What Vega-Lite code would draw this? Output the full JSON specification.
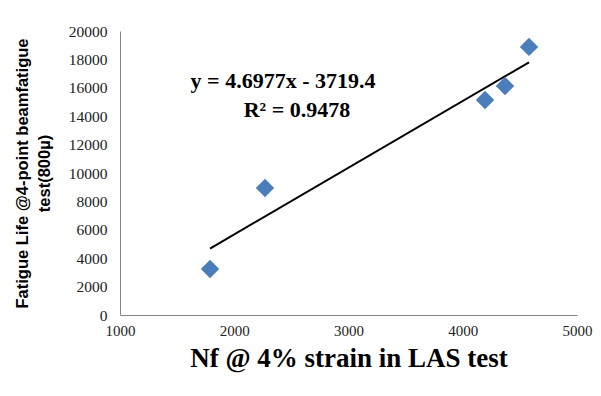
{
  "$schema": "https://vega.github.io/schema/vega-lite/v6.json",
  "width": 457,
  "height": 284,
  "autosize": {"type": "none"},
  "padding": {"left": 120, "top": 31, "right": 24, "bottom": 81},
  "background": "white",
  "config": {"view": {"stroke": null}},
  "datasets": {
    "points": [
      {"nf": 1788, "life": 3240},
      {"nf": 2269, "life": 8940},
      {"nf": 4195, "life": 15140},
      {"nf": 4370, "life": 16130},
      {"nf": 4580, "life": 18880}
    ],
    "trend": [
      {"nf": 1788, "life": 4680},
      {"nf": 4580, "life": 17796}
    ],
    "labels": [
      {"nf": 2427, "life": 16479, "text": "y = 4.6977x - 3719.4"},
      {"nf": 2549, "life": 14437, "text": "R² = 0.9478"}
    ]
  },
  "encoding": {
    "x": {
      "field": "nf", "type": "quantitative",
      "scale": {"domain": [1000, 5000], "nice": false, "zero": false},
      "axis": {
        "values": [1000, 2000, 3000, 4000, 5000],
        "format": "d",
        "grid": false, "ticks": false,
        "domainColor": "#868686", "domainWidth": 1,
        "labelFont": "Liberation Serif", "labelFontSize": 15, "labelColor": "#222222",
        "labelPadding": 8, "labelFlush": false, "labelOverlap": false,
        "title": "Nf @ 4% strain in LAS test",
        "titleFont": "Liberation Serif", "titleFontSize": 27, "titleFontWeight": "bold",
        "titleColor": "black", "titlePadding": 7
      }
    },
    "y": {
      "field": "life", "type": "quantitative",
      "scale": {"domain": [0, 20000], "nice": false},
      "axis": {
        "values": [0, 2000, 4000, 6000, 8000, 10000, 12000, 14000, 16000, 18000, 20000],
        "format": "d",
        "grid": false, "ticks": false,
        "domainColor": "#868686", "domainWidth": 1,
        "labelFont": "Liberation Serif", "labelFontSize": 15.5, "labelColor": "#222222",
        "labelPadding": 13, "labelOverlap": false, "labelBound": false,
        "title": ["Fatigue Life @4-point beamfatigue", "test(800µ)"],
        "titleFont": "Liberation Sans", "titleFontSize": 16.5, "titleFontWeight": "bold",
        "titleColor": "black", "titleLineHeight": 22, "titlePadding": 16
      }
    }
  },
  "layer": [
    {
      "data": {"name": "trend"},
      "mark": {"type": "line", "color": "black", "strokeWidth": 2}
    },
    {
      "data": {"name": "points"},
      "mark": {"type": "point", "shape": "diamond", "filled": true, "size": 340, "color": "#4A7EBB", "opacity": 1}
    },
    {
      "data": {"name": "labels"},
      "mark": {"type": "text", "font": "Liberation Serif", "fontSize": 22, "fontWeight": "bold", "color": "black", "align": "center", "baseline": "middle"},
      "encoding": {
        "text": {"field": "text"}
      }
    }
  ]
}
